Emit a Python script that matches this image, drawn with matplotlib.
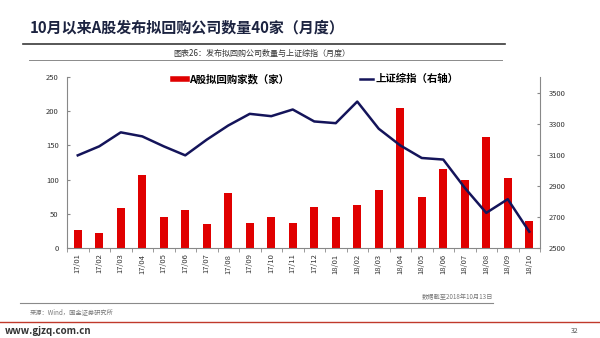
import numpy as np
import matplotlib
matplotlib.use("Agg")
import matplotlib.pyplot as plt
from matplotlib.lines import Line2D

plt.rcParams["font.family"] = ["Noto Sans CJK SC", "DejaVu Sans"]

months = ["17/01", "17/02", "17/03", "17/04", "17/05", "17/06", "17/07", "17/08",
          "17/09", "17/10", "17/11", "17/12", "18/01", "18/02", "18/03", "18/04",
          "18/05", "18/06", "18/07", "18/08", "18/09", "18/10"]
buyback_counts = [26, 22, 59, 106, 46, 56, 35, 81, 37, 46, 37, 60,
                  45, 63, 85, 204, 74, 115, 100, 162, 103, 40]
sse_index = [3096, 3154, 3244, 3218, 3154, 3096, 3197, 3288, 3363, 3348, 3391, 3314,
             3303, 3442, 3267, 3160, 3079, 3069, 2887, 2726, 2814, 2605]
left_ticks = [0, 50, 100, 150, 200, 250]
right_ticks = [2500, 2700, 2900, 3100, 3300, 3500]

W, H = 600, 338


def fx(px):
    return px / W


def fy(py):
    return 1 - py / H


fig = plt.figure(figsize=(6, 3.38), dpi=100)
fig.patch.set_facecolor("white")

# header
fig.text(fx(30), fy(28), "10月以来A股发布拟回购公司数量40家（月度）", fontsize=10.8,
         fontweight="bold", color="#1c2340", va="center", ha="left")
fig.add_artist(Line2D([fx(23), fx(505)], [fy(44), fy(44)], color="#3a3a3a", lw=1.2))
fig.text(fx(262), fy(53), "图表26：发布拟回购公司数量与上证综指（月度）", fontsize=5.8,
         color="#333333", va="center", ha="center")
fig.add_artist(Line2D([fx(29), fx(502)], [fy(60), fy(60)], color="#8a8a8a", lw=0.7))

ax = fig.add_axes([fx(67), fy(248), fx(540) - fx(67), fy(77) - fy(248)])
x = np.arange(len(months))
ax.bar(x, buyback_counts, width=0.38, color="#e00000", zorder=2)
ax.set_xlim(-0.5, len(months) - 0.5)
ax.set_ylim(0, 250)
ax.set_yticks(left_ticks)
ax.set_xticks(x)
ax.set_xticklabels(months, rotation=90, fontsize=5.5, color="#333333")
ax.set_xticks(np.arange(-0.5, len(months), 1), minor=True)
ax.tick_params(axis="x", which="major", length=0, pad=4)
ax.tick_params(axis="x", which="minor", length=3, direction="out", color="#888888")
ax.tick_params(axis="y", labelsize=5.5, labelcolor="#333333", direction="in",
               length=2.5, color="#888888", pad=6)
for s in ["top", "right"]:
    ax.spines[s].set_visible(False)
for s in ["left", "bottom"]:
    ax.spines[s].set_color("#888888")
    ax.spines[s].set_linewidth(0.8)

ax2 = ax.twinx()
ax2.plot(x, sse_index, color="#14145a", lw=1.8, zorder=3)
ax2.set_ylim(2500, 3600)
ax2.set_yticks(right_ticks)
ax2.tick_params(axis="y", labelsize=5.5, labelcolor="#333333", direction="in",
                length=2.5, color="#888888", pad=6)
for s in ["top", "left", "bottom"]:
    ax2.spines[s].set_visible(False)
ax2.spines["right"].set_color("#888888")
ax2.spines["right"].set_linewidth(0.8)

handles = [Line2D([0], [0], color="#e00000", lw=4),
           Line2D([0], [0], color="#14145a", lw=1.8)]
fig.legend(handles, ["A股拟回购家数（家）", "上证综指（右轴）"], ncol=2,
           loc="center left", bbox_to_anchor=(fx(168), fy(79)), frameon=False,
           prop={"size": 7.5, "weight": "bold"}, handlelength=1.3, handletextpad=0.2,
           columnspacing=6.8, borderpad=0)

# footer
fig.text(fx(493), fy(297), "数据截至2018年10月13日", fontsize=4.5, color="#777777",
         style="italic", ha="right", va="center")
fig.add_artist(Line2D([fx(20), fx(493)], [fy(303), fy(303)], color="#8a8a8a", lw=0.8))
fig.text(fx(30), fy(312), "来源：Wind，国金证券研究所", fontsize=4.5, color="#777777",
         style="italic", ha="left", va="center")
fig.add_artist(Line2D([0, 1], [fy(322), fy(322)], color="#c0392b", lw=1.0))
fig.text(fx(5), fy(331), "www.gjzq.com.cn", fontsize=7, color="#333333",
         fontweight="bold", ha="left", va="center")
fig.text(fx(575), fy(331), "32", fontsize=5, color="#555555", ha="center", va="center")

fig.savefig("out.png", dpi=100, facecolor="white")
